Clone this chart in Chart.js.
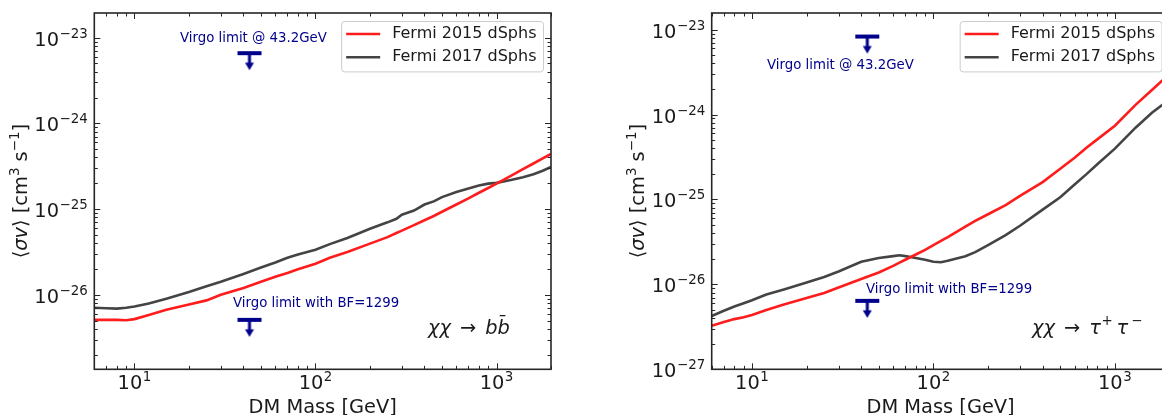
<!DOCTYPE html>
<html>
<head>
<meta charset="utf-8">
<script src="https://cdn.jsdelivr.net/npm/chart.js@4.4.1/dist/chart.umd.min.js"></script>
<style>
html,body{margin:0;padding:0;background:#fff;overflow:hidden;width:1162px;height:415px;}
#wrap{position:relative;width:1162px;height:415px;overflow:hidden;background:#fff;}
#c1{position:absolute;left:0;top:0;}
#c2{position:absolute;left:600px;top:0;}
</style>
</head>
<body>
<div id="wrap">
<canvas id="c1" width="580" height="415"></canvas>
<canvas id="c2" width="600" height="415"></canvas>
</div>
<script>
// ---------------- data ----------------
const seriesLabels = ['Fermi 2015 dSphs', 'Fermi 2017 dSphs'];

// left panel: chi chi -> b bbar
const bbMass = [6,7,8,9,10,12,15,20,25,30,40,50,60,70,80,100,120,150,200,250,280,300,350,400,450,500,600,700,800,900,1000,1200,1400,1600,1800,2000];
const bbFermi2015 = [5.1e-27,5.1e-27,5.1e-27,5.05e-27,5.2e-27,5.8e-27,6.7e-27,7.7e-27,8.6e-27,1.0e-26,1.2e-26,1.42e-26,1.62e-26,1.8e-26,1.98e-26,2.3e-26,2.7e-26,3.15e-26,3.95e-26,4.7e-26,5.25e-26,5.6e-26,6.5e-26,7.4e-26,8.3e-26,9.3e-26,1.13e-25,1.33e-25,1.55e-25,1.76e-25,1.98e-25,2.44e-25,2.92e-25,3.4e-25,3.9e-25,4.4e-25];
const bbFermi2017 = [7.05e-27,6.95e-27,6.9e-27,7.05e-27,7.3e-27,7.9e-27,9.0e-27,1.08e-26,1.26e-26,1.42e-26,1.75e-26,2.08e-26,2.38e-26,2.7e-26,2.95e-26,3.35e-26,3.9e-26,4.6e-26,5.9e-26,7.0e-26,7.7e-26,8.6e-26,9.6e-26,1.13e-25,1.23e-25,1.38e-25,1.58e-25,1.74e-25,1.88e-25,1.98e-25,2.02e-25,2.18e-25,2.35e-25,2.55e-25,2.8e-25,3.1e-25];
const bbVirgoLimits = [6.6e-24, 5.1e-27];

// right panel: chi chi -> tau+ tau-
const ttMass = [6,7,8,9,10,12,15,20,25,30,40,50,60,65,70,80,90,100,110,120,150,170,200,250,300,400,500,600,700,800,1000,1300,1600,2000];
const ttFermi2015 = [3.25e-27,3.6e-27,3.9e-27,4.1e-27,4.37e-27,5.0e-27,5.8e-27,6.9e-27,7.9e-27,9.2e-27,1.16e-26,1.38e-26,1.65e-26,1.8e-26,1.95e-26,2.25e-26,2.55e-26,2.9e-26,3.25e-26,3.6e-26,4.8e-26,5.6e-26,6.7e-26,8.6e-26,1.1e-25,1.6e-25,2.3e-25,3.1e-25,4.1e-25,5.1e-25,7.4e-25,1.3e-24,1.95e-24,3.0e-24];
const ttFermi2017 = [4.25e-27,4.9e-27,5.5e-27,6.0e-27,6.5e-27,7.6e-27,8.7e-27,1.05e-26,1.22e-26,1.42e-26,1.85e-26,2.05e-26,2.15e-26,2.2e-26,2.15e-26,2.05e-26,1.95e-26,1.85e-26,1.82e-26,1.9e-26,2.15e-26,2.4e-26,2.9e-26,3.8e-26,4.9e-26,7.6e-26,1.06e-25,1.5e-25,2.0e-25,2.6e-25,3.97e-25,7.0e-25,1.05e-24,1.5e-24];
const ttVirgoLimits = [8.3e-24, 6.4e-27];

const virgoMass = 43.2;
const virgoTexts = ['Virgo limit @ 43.2GeV', 'Virgo limit with BF=1299'];

// axis ranges and tick labels (powers of ten)
const xRange = [6, 2000];
const bbYRange = [1.35e-27, 1.94e-23];
const ttYRange = [1.0e-27, 1.57e-23];
const xTickExponents = [1, 2, 3];
const bbYTickExponents = [-26, -25, -24, -23];
const ttYTickExponents = [-27, -26, -25, -24, -23];
const xTitle = 'DM Mass [GeV]';

// ---------------- styles ----------------
const RED = '#ff1c1c', GRAY = '#444444', VIRGO = '#00008b', INK = '#1a1a1a', SPINE = '#262626';
const FAM = "'DejaVu Sans', 'Noto Sans', sans-serif";
const F = (s, it) => (it ? 'italic ' : '') + s + 'px ' + FAM;
const BIG = 19.4, SUP = 13.4, LEG = 16, NOTE = 13.3;

function drawRich(ctx, parts, x, y, align) {
  let total = 0;
  parts.forEach(p => { ctx.font = p.font; p._w = p.t ? ctx.measureText(p.t).width : 0; total += p._w + (p.gap || 0); });
  let cx = align === 'right' ? x - total : (align === 'center' ? x - total / 2 : x);
  ctx.textAlign = 'left';
  ctx.textBaseline = 'alphabetic';
  parts.forEach(p => {
    ctx.font = p.font;
    if (p.t) ctx.fillText(p.t, cx, y + (p.dy || 0));
    cx += p._w + (p.gap || 0);
  });
}
const expStr = e => (e < 0 ? '\u2212' : '') + Math.abs(e);
const powParts = e => [{t: '10', font: F(BIG), gap: 0.5}, {t: expStr(e), font: F(SUP), dy: -8}];

function makeLimitMarker() {
  const c = document.createElement('canvas');
  c.width = 26; c.height = 40;
  const g = c.getContext('2d');
  g.fillStyle = VIRGO;
  g.fillRect(1, 18, 24, 4);
  g.fillRect(11.5, 22, 3, 9);
  g.beginPath(); g.moveTo(8.5, 29.5); g.lineTo(17.5, 29.5); g.lineTo(13, 37); g.closePath(); g.fill();
  return c;
}
const limitMarker = makeLimitMarker();

function panelPlugin(cfg) {
  return {
    id: 'panel',
    afterDatasetsDraw(chart) {
      const {ctx, chartArea: a, scales: {x, y}} = chart;
      const W = a.right - a.left, H = a.bottom - a.top;
      ctx.save();
      // inward ticks on all four sides
      ctx.strokeStyle = SPINE; ctx.lineWidth = 1;
      const seg = (x1, y1, x2, y2) => { ctx.beginPath(); ctx.moveTo(x1, y1); ctx.lineTo(x2, y2); ctx.stroke(); };
      for (let e = Math.floor(Math.log10(x.min)); e <= Math.ceil(Math.log10(x.max)); e++) {
        for (let m = 1; m <= 9; m++) {
          const v = m * Math.pow(10, e);
          if (v < x.min * 0.999 || v > x.max * 1.001) continue;
          const p = Math.round(x.getPixelForValue(v)) + 0.5, L = m === 1 ? 6 : 3.5;
          seg(p, a.bottom, p, a.bottom - L); seg(p, a.top, p, a.top + L);
        }
      }
      for (let e = Math.floor(Math.log10(y.min)); e <= Math.ceil(Math.log10(y.max)); e++) {
        for (let m = 1; m <= 9; m++) {
          const v = m * Math.pow(10, e);
          if (v < y.min * 0.999 || v > y.max * 1.001) continue;
          const p = Math.round(y.getPixelForValue(v)) + 0.5, L = m === 1 ? 6 : 3.5;
          seg(a.left, p, a.left + L, p); seg(a.right, p, a.right - L, p);
        }
      }
      // frame
      ctx.lineWidth = 1.6; ctx.strokeStyle = SPINE;
      ctx.strokeRect(a.left, a.top, W, H);
      // tick labels
      ctx.fillStyle = INK;
      xTickExponents.forEach(e => drawRich(ctx, powParts(e), x.getPixelForValue(Math.pow(10, e)), a.bottom + 19.7, 'center'));
      cfg.yTickExps.forEach(e => drawRich(ctx, powParts(e), a.left - 6.5, y.getPixelForValue(Math.pow(10, e)) + 8, 'right'));
      // axis titles
      drawRich(ctx, [{t: xTitle, font: F(BIG)}], (a.left + a.right) / 2, 412.5, 'center');
      ctx.save();
      ctx.translate(a.left - 67.5, (a.top + a.bottom) / 2);
      ctx.rotate(-Math.PI / 2);
      drawRich(ctx, [
        {t: '\u27e8', font: F(BIG)}, {t: '\u03c3v', font: F(BIG, true)}, {t: '\u27e9 [cm', font: F(BIG)},
        {t: '3', font: F(SUP), dy: -8}, {t: ' s', font: F(BIG)}, {t: '\u22121', font: F(SUP), dy: -8}, {t: ']', font: F(BIG)}
      ], 0, 0, 'center');
      ctx.restore();
      // Virgo notes (axes-fraction positions)
      ctx.fillStyle = VIRGO;
      cfg.notes.forEach((n, i) => drawRich(ctx, [{t: virgoTexts[i], font: F(NOTE)}], a.left + n[0] * W, a.top + n[1] * H, 'left'));
      // channel annotation
      ctx.fillStyle = INK;
      drawRich(ctx, cfg.channel, a.left + cfg.channelPos[0] * W, a.top + cfg.channelPos[1] * H, 'left');
      // legend
      const items = chart.data.datasets.filter(d => d.inLegend);
      ctx.font = F(LEG);
      const tw = Math.max(...items.map(d => ctx.measureText(d.label).width));
      const bw = 51 + tw + 6.5, bh = 50.4;
      const bx = a.right - 8 - bw, by = a.top + 8;
      ctx.beginPath();
      ctx.roundRect(bx + 0.5, by + 0.5, bw, bh, 3);
      ctx.fillStyle = 'rgba(255,255,255,0.85)'; ctx.fill();
      ctx.strokeStyle = '#cccccc'; ctx.lineWidth = 1; ctx.stroke();
      items.forEach((d, i) => {
        const cy = by + 13 + i * 23.3;
        ctx.strokeStyle = d.borderColor; ctx.lineWidth = 2.6;
        seg(bx + 5, cy, bx + 39, cy);
        ctx.fillStyle = INK; ctx.font = F(LEG);
        ctx.textAlign = 'left'; ctx.textBaseline = 'middle';
        ctx.fillText(d.label, bx + 51, cy);
      });
      ctx.restore();
    }
  };
}

function makePanel(canvasId, cfg) {
  const pts = (xs, ys) => xs.map((m, i) => ({x: m, y: ys[i]}));
  return new Chart(document.getElementById(canvasId), {
    type: 'scatter',
    data: {
      datasets: [
        {label: seriesLabels[0], inLegend: true, data: pts(cfg.mass, cfg.s2015), showLine: true, borderColor: RED, backgroundColor: RED, borderWidth: 2.6, pointRadius: 0, clip: 0},
        {label: seriesLabels[1], inLegend: true, data: pts(cfg.mass, cfg.s2017), showLine: true, borderColor: GRAY, backgroundColor: GRAY, borderWidth: 2.6, pointRadius: 0, clip: 0},
        {label: 'Virgo', inLegend: false, data: cfg.virgo.map(v => ({x: virgoMass, y: v})), showLine: false, pointStyle: limitMarker, pointRadius: 12, clip: false}
      ]
    },
    options: {
      responsive: false, animation: false, devicePixelRatio: 1, events: [],
      layout: {padding: {left: 0, top: 9.3, right: cfg.padRight, bottom: 0}},
      plugins: {legend: {display: false}, tooltip: {enabled: false}},
      scales: {
        x: {type: 'logarithmic', min: xRange[0], max: xRange[1], grid: {display: false, drawTicks: false}, border: {display: false}, ticks: {display: false}, afterFit: s => { s.height = 415 - 369.3; }},
        y: {type: 'logarithmic', min: cfg.yRange[0], max: cfg.yRange[1], grid: {display: false, drawTicks: false}, border: {display: false}, ticks: {display: false}, afterFit: s => { s.width = cfg.yWidth; }}
      }
    },
    plugins: [panelPlugin(cfg)]
  });
}

makePanel('c1', {
  mass: bbMass, s2015: bbFermi2015, s2017: bbFermi2017, virgo: bbVirgoLimits,
  yRange: bbYRange, yTickExps: bbYTickExponents, yWidth: 94.3, padRight: 29,
  notes: [[0.1877, 0.0825], [0.3037, 0.824]],
  channelPos: [0.7307, 0.9],
  channel: [{t: '\u03c7\u03c7', font: F(BIG, true), gap: 9}, {t: '\u2192', font: F(BIG), gap: 9}, {t: 'bb\u0304', font: F(BIG, true)}]
});
makePanel('c2', {
  mass: ttMass, s2015: ttFermi2015, s2017: ttFermi2017, virgo: ttVirgoLimits,
  yRange: ttYRange, yTickExps: ttYTickExponents, yWidth: 111.7, padRight: 30.5,
  notes: [[0.1208, 0.1567], [0.337, 0.787]],
  channelPos: [0.6997, 0.9],
  channel: [{t: '\u03c7\u03c7', font: F(BIG, true), gap: 9}, {t: '\u2192', font: F(BIG), gap: 9},
            {t: '\u03c4', font: F(BIG, true), gap: 0.5}, {t: '+', font: F(SUP), dy: -8.5, gap: 4},
            {t: '\u03c4', font: F(BIG, true), gap: 3}, {t: '\u2212', font: F(SUP), dy: -8.5}]
});
</script>
</body>
</html>
